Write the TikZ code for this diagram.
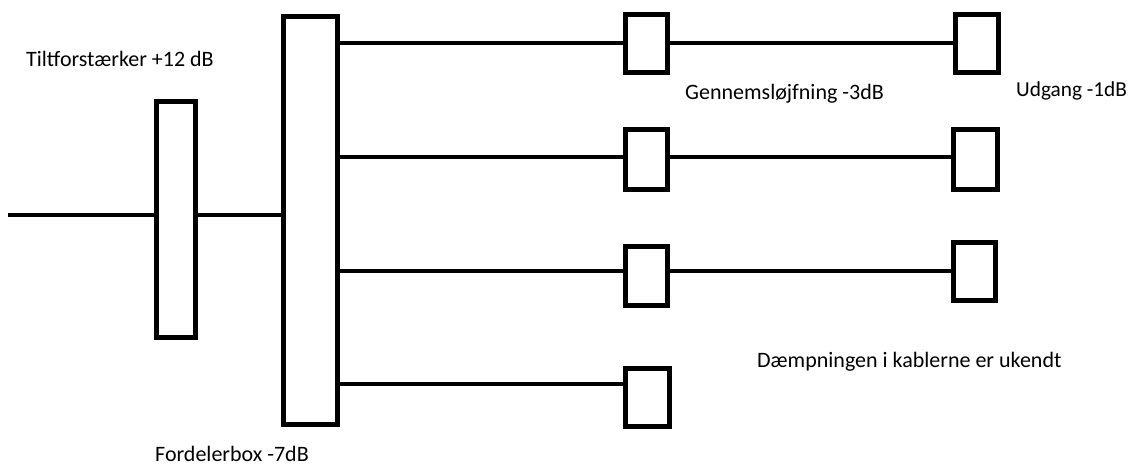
\documentclass[tikz,border=0pt]{standalone}
\usepackage{fontspec}
\setmainfont{Carlito}
\begin{document}
\begin{tikzpicture}[x=1pt,y=-1pt,
  unit/.style={draw=black,line width=4.8pt,rectangle,inner sep=0pt,fill=white},
  wire/.style={draw=black,line width=4pt},
  lbl/.style={anchor=base west,inner sep=0pt,text=black,font=\fontsize{22}{26}\selectfont}]
\useasboundingbox (0,0) rectangle (1128,465);
% boxes
\node[unit,minimum width=39.5pt,minimum height=236.5pt] (amp) at (176,219.5) {};
\node[unit,minimum width=54.5pt,minimum height=408.5pt] (split) at (310.5,220.5) {};
\node[unit,minimum width=42.5pt,minimum height=58.5pt] (tapA) at (646.5,43.5) {};
\node[unit,minimum width=42.5pt,minimum height=60pt] (tapB) at (646.5,159.5) {};
\node[unit,minimum width=42.5pt,minimum height=59pt] (tapC) at (646.5,276) {};
\node[unit,minimum width=44pt,minimum height=58.5pt] (tapD) at (647.5,397.5) {};
\node[unit,minimum width=43.5pt,minimum height=58.5pt] (outA) at (977,43.5) {};
\node[unit,minimum width=44pt,minimum height=60pt] (outB) at (975.5,159.5) {};
\node[unit,minimum width=42.5pt,minimum height=58.5pt] (outC) at (974.5,271.5) {};
% wires
\coordinate (in) at (8,215);
\draw[wire] (in) -- (in -| amp.west);
\draw[wire] (amp.east |- 0,215) -- (split.west |- 0,215);
\draw[wire] (split.east |- 0,43) -- (tapA.west |- 0,43);
\draw[wire] (split.east |- 0,157) -- (tapB.west |- 0,157);
\draw[wire] (split.east |- 0,271) -- (tapC.west |- 0,271);
\draw[wire] (split.east |- 0,384) -- (tapD.west |- 0,384);
\draw[wire] (tapA.east |- 0,43) -- (outA.west |- 0,43);
\draw[wire] (tapB.east |- 0,157) -- (outB.west |- 0,157);
\draw[wire] (tapC.east |- 0,271) -- (outC.west |- 0,271);
% labels
\node[lbl] (t1) at (26,67) {Tiltforstærker +12 dB};
\node[lbl] (t2) at (155,461) {Fordelerbox -7dB};
\node[lbl] (t3) at (685,100) {Gennemsløjfning -3dB};
\node[lbl,font=\fontsize{21.3}{25}\selectfont] (t4) at (1016,97) {Udgang -1dB};
\node[lbl] (t5) at (757,367) {Dæmpningen i kablerne er ukendt};
\end{tikzpicture}
\end{document}
